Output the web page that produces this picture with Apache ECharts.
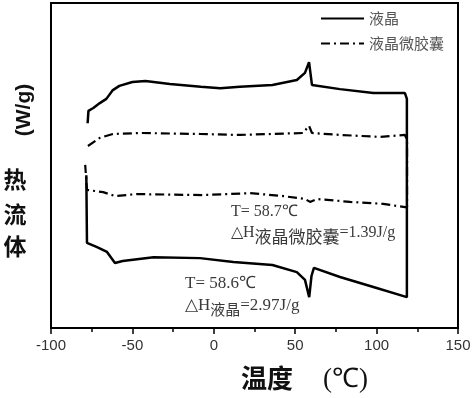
<!DOCTYPE html>
<html>
<head>
<meta charset="utf-8">
<script src="https://cdn.jsdelivr.net/npm/echarts@6/dist/echarts.min.js"></script>
<style>
  html, body { margin: 0; padding: 0; background: #fff; }
  #main { width: 474px; height: 398px; }
</style>
</head>
<body>
<div id="main"></div>
<script>
// 液晶: heating run, drop at end, cooling run back, jump at start
var lcTemp = [-77.5, -77.0, -74, -70, -66, -62, -58, -50, -42, -27, -8, 4, 16, 36, 51, 56, 58.5, 60.3, 77.5, 98, 117.4, 118.6,
              118.6, 98, 77.5, 61.5, 60, 58.6, 56, 51, 36, 12, -8.5, -37, -56, -60.7, -65.6, -71.7, -77.9, -78.3];
var lcFlow = [63.0, 66.8, 67.7, 69.2, 70.5, 73.2, 74.5, 75.7, 76.0, 75.1, 74.2, 73.8, 74.2, 74.8, 76.3, 78.5, 81.8, 74.8, 73.5, 72.3, 72.3, 70.5,
              9.5, 12.6, 15.7, 18.5, 16.0, 9.5, 14.8, 17.2, 19.4, 20.3, 21.5, 21.8, 20.6, 20.0, 23.4, 24.9, 26.2, 47.0];

// 液晶微胶囊
var mcTemp = [-77.3, -70, -62, -45, -8.5, 16, 54.8, 58.5, 60.3, 77.5, 102, 117.4, 118.7,
              118.7, 117.4, 104, 83.7, 63.4, 59.1, 56, 42.5, 22.2, -6.6, -47.2, -60.7, -68, -77.9, -79, -79];
var mcFlow = [56.0, 58.5, 59.7, 60.0, 59.7, 59.4, 60.0, 62.2, 60.0, 59.4, 58.8, 59.4, 57.8,
              37.2, 37.2, 38.2, 38.8, 39.7, 38.8, 39.7, 40.6, 41.5, 40.9, 41.2, 40.6, 41.8, 42.5, 42.5, 50.2];

var seriesNames = ['液晶', '液晶微胶囊'];
var xTicks = [-100, 150, 50];

function pairs(xs, ys) {
  return xs.map(function (x, i) { return [x, ys[i]]; });
}

var myChart = echarts.init(document.getElementById('main'));
var serif = 'Liberation Serif';
var annoColor = '#3a3a3a';
var upperRich = {
  a: { font: '16px ' + serif, fill: annoColor },
  s: { font: '17px Noto Sans CJK SC', fill: annoColor, padding: [7, 0, 0, 0] }
};
var lowerRich = {
  a: { font: '17px ' + serif, fill: annoColor },
  s: { font: '15px Noto Sans CJK SC', fill: annoColor, padding: [7, 0, 0, 0] }
};

myChart.setOption({
  backgroundColor: '#fff',
  animation: false,
  grid: { left: 51, right: 16, top: 3, bottom: 70, show: true, borderColor: '#000', borderWidth: 2 },
  legend: {
    orient: 'vertical', left: 320, top: 11, itemWidth: 43, itemHeight: 14, itemGap: 10, padding: 0,
    itemStyle: { color: 'transparent', borderWidth: 0 },
    textStyle: { fontSize: 15, color: '#555', fontFamily: 'Noto Sans CJK SC' },
    data: seriesNames
  },
  xAxis: {
    type: 'value', min: xTicks[0], max: xTicks[1], interval: xTicks[2],
    axisLine: { show: true, lineStyle: { color: '#000', width: 2 } },
    axisTick: { show: true, inside: false, length: 6, lineStyle: { color: '#000', width: 1.5 } },
    minorTick: { show: true, splitNumber: 2, length: 4, lineStyle: { color: '#000', width: 1.5 } },
    splitLine: { show: false },
    axisLabel: { fontSize: 15, color: '#333', fontFamily: 'Liberation Sans', margin: 10 }
  },
  yAxis: {
    type: 'value', min: 0, max: 100,
    axisLine: { show: false }, axisTick: { show: false }, axisLabel: { show: false }, splitLine: { show: false }
  },
  series: [
    {
      name: seriesNames[0], type: 'line', symbol: 'none', smooth: false,
      lineStyle: { color: '#000', width: 2.5, type: 'solid' },
      itemStyle: { color: '#000' },
      data: pairs(lcTemp, lcFlow)
    },
    {
      name: seriesNames[1], type: 'line', symbol: 'none', smooth: false,
      lineStyle: { color: '#000', width: 2.2, type: [9, 4, 2, 4] },
      itemStyle: { color: '#000' },
      data: pairs(mcTemp, mcFlow)
    }
  ],
  graphic: [
    { type: 'text', left: 231, top: 204, style: { text: 'T= 58.7℃', font: '16px ' + serif, fill: annoColor } },
    { type: 'text', left: 231, top: 225, style: { text: '{a|△H}{s|液晶微胶囊}{a|=1.39J/g}', rich: upperRich } },
    { type: 'text', left: 185, top: 275, style: { text: 'T= 58.6℃', font: '17px ' + serif, fill: annoColor } },
    { type: 'text', left: 185, top: 297, style: { text: '{a|△H}{s|液晶}{a|=2.97J/g}', rich: lowerRich } },
    { type: 'text', left: 241, top: 365, style: { text: '温度', font: 'bold 26px Noto Sans CJK SC', fill: '#111' } },
    { type: 'text', left: 323, top: 366, style: { text: '(℃)', font: '27px ' + serif, fill: '#111' } },
    { type: 'text', x: 24, y: 110, rotation: Math.PI / 2, style: {
        text: '(W/g)', font: 'bold 21px Liberation Sans', fill: '#111', align: 'center', verticalAlign: 'middle' } },
    { type: 'text', x: 15, y: 179, style: { text: '热', font: 'bold 23px Noto Sans CJK SC', fill: '#111', align: 'center', verticalAlign: 'middle' } },
    { type: 'text', x: 15, y: 214, style: { text: '流', font: 'bold 23px Noto Sans CJK SC', fill: '#111', align: 'center', verticalAlign: 'middle' } },
    { type: 'text', x: 15, y: 246, style: { text: '体', font: 'bold 23px Noto Sans CJK SC', fill: '#111', align: 'center', verticalAlign: 'middle' } }
  ]
});
</script>
</body>
</html>
